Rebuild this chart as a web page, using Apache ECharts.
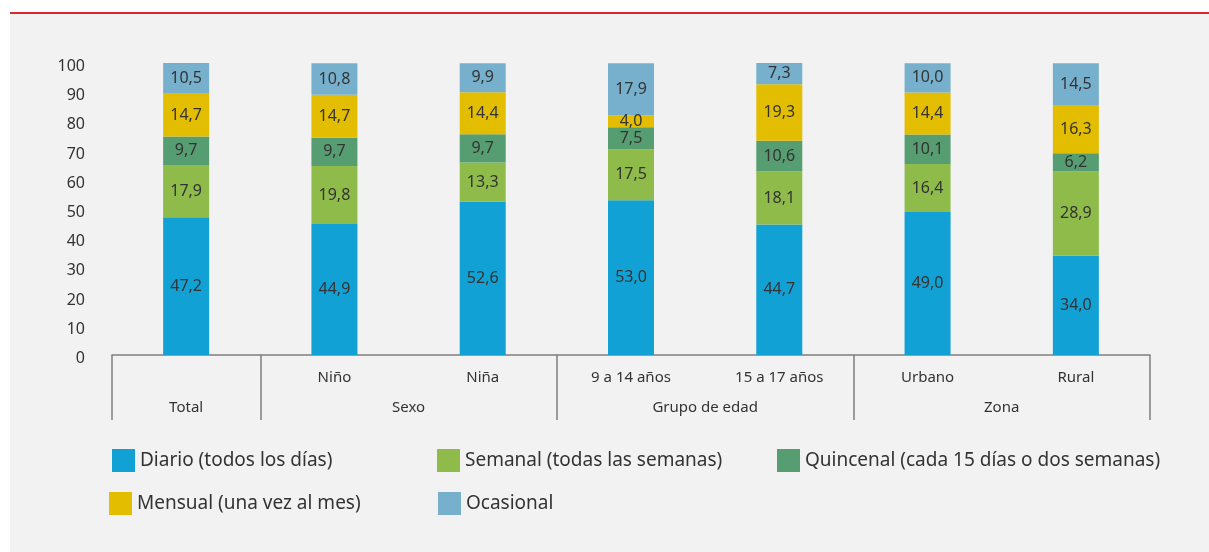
<!DOCTYPE html>
<html>
<head>
	<meta charset="utf-8">
	<title>Frecuencia</title>
	<script src="https://cdn.jsdelivr.net/npm/echarts@6/dist/echarts.min.js"></script>
	<style>
		html, body { margin: 0; padding: 0; background: #ffffff; }
		#main { width: 1209px; height: 552px; }
	</style>
</head>
<body>
	<div id="main"></div>
	<script type="text/javascript">
		// datos
		var categorias = ['', 'Niño', 'Niña', '9 a 14 años', '15 a 17 años', 'Urbano', 'Rural'];
		var grupos = ['Total', 'Sexo', 'Grupo de edad', 'Zona'];
		var grupoCentros = [0.5, 2, 4, 6];
		var grupoLimites = [0, 1, 3, 5, 7];
		var ticksY = [0, 10, 20, 30, 40, 50, 60, 70, 80, 90, 100];

		var diario = [47.2, 44.9, 52.6, 53.0, 44.7, 49.0, 34.0];
		var semanal = [17.9, 19.8, 13.3, 17.5, 18.1, 16.4, 28.9];
		var quincenal = [9.7, 9.7, 9.7, 7.5, 10.6, 10.1, 6.2];
		var mensual = [14.7, 14.7, 14.4, 4.0, 19.3, 14.4, 16.3];
		var ocasional = [10.5, 10.8, 9.9, 17.9, 7.3, 10.0, 14.5];

		var nombres = ['Diario (todos los días)', 'Semanal (todas las semanas)',
			'Quincenal (cada 15 días o dos semanas)', 'Mensual (una vez al mes)', 'Ocasional'];
		var colores = ['#12a1d5', '#8fbb4a', '#579d72', '#e3be00', '#77b0cc'];
		var valores = [diario, semanal, quincenal, mensual, ocasional];

		var fuente = 'Noto Sans';
		var myChart = echarts.init(document.getElementById('main'));

		var series = valores.map(function (v, i) {
			return {
				name: nombres[i],
				type: 'bar',
				stack: 'total',
				barWidth: 46,
				data: v,
				itemStyle: { color: colores[i] },
				label: {
					show: true,
					position: 'inside',
					color: '#333333',
					fontFamily: fuente,
					fontSize: 16,
					formatter: function (p) { return p.value.toFixed(1).replace('.', ','); }
				}
			};
		});

		// posiciones de la leyenda (una por elemento)
		var leyPos = [[112, 449], [437, 449], [777, 449], [109, 492], [438, 492]];
		var leyendas = nombres.map(function (n, i) {
			return {
				data: [n],
				left: leyPos[i][0],
				top: leyPos[i][1],
				padding: 0,
				itemWidth: 23,
				itemHeight: 23,
				icon: 'rect',
				textStyle: { color: '#333333', fontSize: 19, fontFamily: fuente },
				selectedMode: false
			};
		});

		myChart.setOption({
			animation: false,
			graphic: [
				{ type: 'rect', z: -10, shape: { x: 10, y: 14, width: 1199, height: 538 }, style: { fill: '#f2f2f2' } },
				{ type: 'line', shape: { x1: 10, y1: 13, x2: 1209, y2: 13 }, style: { stroke: '#d7282f', lineWidth: 2 } }
			],
			legend: leyendas,
			grid: { left: 112, right: 59, top: 63, bottom: 197 },
			xAxis: [
				{
					type: 'category',
					data: categorias,
					axisLine: { lineStyle: { color: '#7f7f7f', width: 1.5 } },
					axisTick: { show: false },
					axisLabel: { color: '#333333', fontSize: 15, fontFamily: fuente, margin: 15 }
				},
				{
					type: 'value',
					position: 'bottom',
					min: 0,
					max: 7,
					axisLine: { show: false },
					splitLine: { show: false },
					axisTick: {
						show: true,
						customValues: grupoLimites,
						length: 65,
						lineStyle: { color: '#7f7f7f', width: 1.5 }
					},
					axisLabel: {
						customValues: grupoCentros,
						color: '#333333',
						fontSize: 15,
						fontFamily: fuente,
						margin: 45,
						formatter: function (v) {
							var k = grupoCentros.indexOf(v);
							return k >= 0 ? grupos[k] : '';
						}
					}
				}
			],
			yAxis: {
				type: 'value',
				min: ticksY[0],
				max: ticksY[ticksY.length - 1],
				interval: 10,
				axisLine: { show: false },
				axisTick: { show: false },
				splitLine: { show: false },
				axisLabel: {
					margin: 27,
					formatter: function (v) { return '{n|' + v + '}'; },
					rich: {
						n: { color: '#333333', fontSize: 16, fontFamily: fuente, padding: [7, 0, 0, 0] }
					}
				}
			},
			series: series
		});
	</script>
</body>
</html>
